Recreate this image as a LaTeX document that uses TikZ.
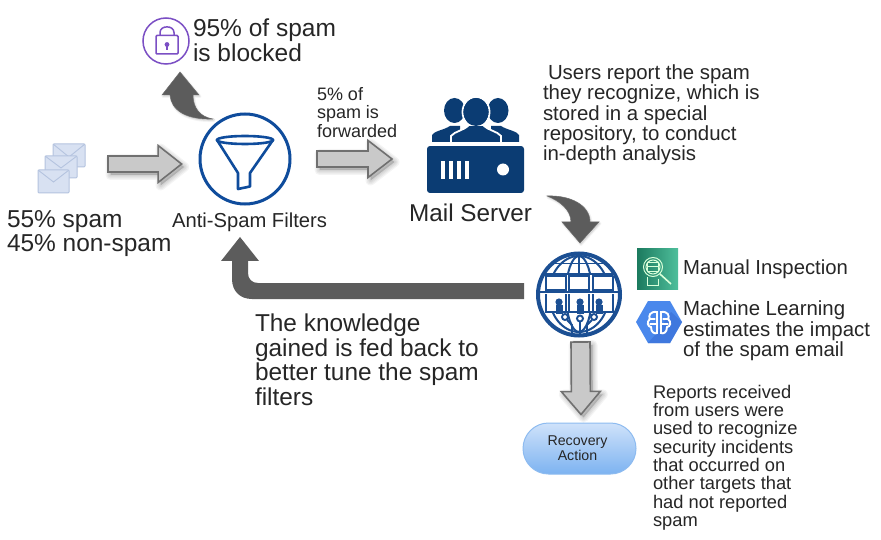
\documentclass[tikz,border=0pt]{standalone}
\usepackage{fontspec}
\setmainfont{Liberation Sans}
\usetikzlibrary{calc,shapes.misc,shapes.geometric}
\definecolor{ink}{HTML}{262626}
\definecolor{navy}{HTML}{0B3C73}
\definecolor{ringblue}{HTML}{0F4C9C}
\definecolor{globeblue}{HTML}{1B4F93}
\definecolor{lockpurple}{HTML}{7B4FC4}
\definecolor{arrowlight}{HTML}{C9C9C9}
\definecolor{arrowedge}{HTML}{707070}
\definecolor{arrowdark}{HTML}{5C5C5C}
\definecolor{mailfill}{HTML}{D8E1F2}
\definecolor{mailedge}{HTML}{B4C3DF}
\definecolor{greenA}{HTML}{1B7A5E}
\definecolor{greenB}{HTML}{4FBF9C}
\definecolor{hexA}{HTML}{4A88EC}
\definecolor{hexC}{HTML}{3F78DE}
\definecolor{pillA}{HTML}{CFE2FA}
\definecolor{pillB}{HTML}{7DB3F1}
\definecolor{pillC}{HTML}{8DBBF0}
\tikzset{
  txt/.style={anchor=north west,inner sep=0pt,outer sep=0pt,align=left,text=ink},
  ring/.style={circle,minimum size=#1,inner sep=0pt,outer sep=0pt},
  place/.style={rectangle,inner sep=0pt,outer sep=0pt,minimum width=#1},
  lightarrow/.style={fill=arrowlight,draw=arrowedge,line width=1.6pt,line join=miter},
  darkarrow/.style={fill=arrowdark,draw=arrowdark!90,line width=.5pt,line join=miter},
  mail/.style={fill=mailfill,draw=mailedge,line width=1pt,rounded corners=1pt},
  mailflap/.style={draw=mailedge,line width=.9pt},
}
% Soft halo under a block arrow
\newcommand{\halo}[1]{%
  \foreach \halow in {10,7.5,5,2.5}{
    \path[fill=black,draw=black,line width=\halow pt,line join=round,opacity=.045,
          transform canvas={shift={(2.5pt,-3pt)}}] #1;}}
% Fainter halo for the dark curved arrows
\newcommand{\faintHalo}[1]{%
  \foreach \halow in {3,1.5}{
    \path[fill=black,draw=black,line width=\halow pt,line join=round,opacity=.04,
          transform canvas={shift={(1pt,-1.5pt)}}] #1;}}
% Straight block arrow between two named coordinates
\newcommand{\blockarrow}[5]{%
  \def\shapepath{($(#1)!#3pt!90:(#2)$) -- ($(#2)!#5pt!(#1)!#3pt!90:(#2)$) -- ($(#2)!#5pt!(#1)!#4pt!90:(#2)$)
    -- (#2) -- ($(#2)!#5pt!(#1)!#4pt!-90:(#2)$) -- ($(#2)!#5pt!(#1)!#3pt!-90:(#2)$) -- ($(#1)!#3pt!-90:(#2)$) -- cycle}%
  \halo{\shapepath}%
  \draw[lightarrow] \shapepath;}
\begin{document}
\begin{tikzpicture}[x=1pt,y=-1pt]
\useasboundingbox (0,0) rectangle (881,540);
\fill[white] (0,0) rectangle (881,540);

% ---- Envelopes
\node[place=47,minimum height=49] (mails) at (61.5,168.5) {};
\draw[mail] (53,144) rectangle (85,167);
\draw[mailflap] (53,144) -- (69,157) -- (85,144);
\draw[mail] (45,156) rectangle (77,178);
\draw[mailflap] (45,156) -- (61,168) -- (77,156);
\draw[mail] (38,170) rectangle (69,193);
\draw[mailflap] (38,170) -- (53.5,182) -- (69,170);

% ---- Anti-spam filter icon
\node[ring=90,draw=ringblue,line width=3pt] (filters) at (245,159) {};
\draw[ringblue,line width=2.6pt,line join=round]
  (217,140) -- (238,173) -- (238,189) -- (250,186.5) -- (250,173) -- (273,140);
\draw[ringblue,line width=2.6pt] (245,140) ellipse (28 and 4);

% ---- Padlock icon
\node[ring=46,draw=lockpurple,line width=1.5pt] (lock) at (166,41) {};
\draw[lockpurple,line width=1.5pt,rounded corners=1pt] (156,35.5) rectangle (178,54);
\draw[lockpurple,line width=1.5pt] (160,35.5) -- (160,32.5) .. controls (160,25) and (174,25) .. (174,32.5) -- (174,35.5);
\fill[lockpurple] (167,44.5) circle (2.4);
\draw[lockpurple,line width=1.2pt] (167,45) -- (167,50);

% ---- Mail server icon
\node[place=97,minimum height=47,fill=navy,rounded corners=3pt] (server) at (475.5,169.5) {};
\foreach \bx in {443,451,459,467}
  \fill[white] (\bx-2,161) rectangle (\bx+2,179);
\fill[white] (503,169.5) circle (6);
\fill[navy] (432,142) -- (432,135) .. controls (434,131) and (444,130) .. (450,126) -- (460,126) -- (460,142) -- cycle;
\fill[navy] (454.5,110.5) ellipse (10.5 and 12.5);
\fill[navy] (519,142) -- (519,135) .. controls (517,131) and (507,130) .. (501,126) -- (491,126) -- (491,142) -- cycle;
\fill[navy] (498,110.5) ellipse (10.5 and 12.5);
\fill[navy,draw=white,line width=1.8pt] (476,112) ellipse (13.5 and 15);
\fill[navy,draw=white,line width=1.8pt] (451,143.5) -- (451,136) .. controls (455,131) and (463,131) .. (469,125)
   -- (483,125) .. controls (489,131) and (497,131) .. (501,136) -- (501,143.5);
\fill[navy] (476,112) ellipse (12.5 and 14);
\fill[white] (430,142.5) rectangle (522,146);

% ---- Analysis repository icon
\node[ring=82,fill=white,draw=globeblue,line width=4pt] (globe) at (579,294.5) {};
\begin{scope}
  \clip (579,294.5) circle (39.5);
  \draw[globeblue,line width=2pt] (579,294) ellipse (13 and 38);
  \draw[globeblue,line width=2pt] (579,254) -- (579,276);
  \draw[globeblue,line width=2pt] (579,294) ellipse (30 and 38);
  \draw[globeblue,line width=1.8pt] (540,263.5) -- (618,263.5);
  \fill[white] (545,275) rectangle (614,312);
  \draw[globeblue,line width=2.2pt] (540,274) -- (618,274);
  \foreach \wx in {546,569,593}{
    \fill[white] (\wx,276) rectangle (\wx+20,290);
    \draw[globeblue,line width=2.2pt] (\wx,276) rectangle (\wx+20,290);
    \draw[globeblue,line width=2.2pt] (\wx,294) -- (\wx,312) (\wx+20,294) -- (\wx+20,312);
  }
  \draw[globeblue,line width=2.2pt] (538,292) -- (620,292) (545,312) -- (614,312);
  \foreach \px in {559,580,599}{
    \fill[globeblue] (\px,302) circle (3.6);
    \fill[globeblue] (\px-3.5,305) rectangle (\px+3.5,314);
  }
  \draw[globeblue,line width=1.9pt] (565,317) circle (3) (580,318.5) circle (3) (594,317) circle (3);
  \draw[globeblue,line width=1.9pt] (580,321.5) -- (580,334);
  \draw[globeblue,line width=1.9pt] (567,320) -- (572,325) -- (572,334);
  \draw[globeblue,line width=1.9pt] (592,320) -- (587,325) -- (587,334);
\end{scope}

% ---- Manual inspection badge
\node[place=41,minimum height=40,left color=greenA,right color=greenB] (manual) at (657.5,269) {};

% ---- Machine learning badge
\node[place=46,minimum height=42] (ml) at (659,322) {};
\fill[hexA] (636,322) -- (648,301) -- (670,301) -- (682,322) -- (670,343) -- (648,343) -- cycle;
\fill[hexC] (671,312) -- (682,322) -- (670,343) -- (648,343) -- (656,334) -- cycle;
\begin{scope}[white,line width=1.9pt,line cap=round]
  \draw (657,312) .. controls (650,311) and (648,316) .. (650,319) .. controls (646,322) and (648,327) .. (651,327)
        .. controls (651,333) and (655,334) .. (657,333) -- cycle;
  \draw (661,312) .. controls (668,311) and (670,316) .. (668,319) .. controls (672,322) and (670,327) .. (667,327)
        .. controls (667,333) and (663,334) .. (661,333) -- cycle;
  \draw[line width=1.3pt] (649,319) -- (655,319) (650,324) -- (656,324) (663,319) -- (669,319) (662,324) -- (668,324);
\end{scope}

% ---- Recovery action pill
\node[rounded rectangle,minimum width=113,minimum height=51,inner sep=0pt,
      top color=pillA,bottom color=pillB,draw=pillC,line width=1pt,
      align=center,text=ink,font=\fontsize{14.2}{15}\selectfont] (recovery) at (579.5,448.5)
      {Recovery\hspace*{4pt}\\Action\hspace*{4pt}};

% ---- Straight flow arrows
\coordinate (inTail) at ($(mails.east)+(23,-4.5)$);
\coordinate (inTip) at ($(filters.west)+(-18.4,5)$);
\blockarrow{inTail}{inTip}{8}{18.5}{23.5}
\coordinate (fwTail) at ($(filters.east)+(27,0)$);
\coordinate (fwTip) at ($(server.west)+(-35,-10.5)$);
\blockarrow{fwTail}{fwTip}{8}{18.5}{24}
\coordinate (recTail) at ($(globe.south)+(1.5,6.5)$);
\coordinate (recTip) at ($(recovery.north)+(1.5,-8)$);
\blockarrow{recTail}{recTip}{9.5}{19.5}{23}

% ---- Curved flow arrows
\coordinate (blockTip) at ($(lock.south)+(14,8)$);
\coordinate (blockTail) at ($(filters.north)+(-32,5)$);
\def\blockpath{(blockTail) .. controls (200,117) and (193,108) .. (193,95) -- (199,95) -- (blockTip) -- (162,95) -- (170,95)
  .. controls (171,110) and (186,120) .. (blockTail) -- cycle}
\faintHalo{\blockpath}
\draw[darkarrow] \blockpath;
\coordinate (repoTail) at ($(server.south east)+(23,3)$);
\coordinate (repoTip) at ($(globe.north)+(1,-10.5)$);
\def\repopath{(repoTail) .. controls (570,195) and (590,205) .. (590,222) -- (599,222) -- (repoTip) -- (562,222) -- (571,222)
  .. controls (571,210) and (560,201) .. (repoTail) -- cycle}
\faintHalo{\repopath}
\draw[darkarrow] \repopath;

% ---- Feedback arrow back to the filters
\coordinate (fbTail) at ($(globe.west)+(-14,-3.5)$);
\coordinate (fbTip) at ($(filters.south)+(-5,33)$);
\fill[arrowdark] ($(fbTail)+(0,-8)$) -- (258,283) .. controls (252,283) and (248,279) .. (248,273) -- (248,261) -- (259,261)
  -- (fbTip) -- (221,261) -- (232,261) -- (232,279) .. controls (232,291) and (240,299) .. (252,299) -- ($(fbTail)+(0,8)$) -- cycle;

% ---- Magnifier on the inspection badge
\begin{scope}[white!85!green,line width=1pt]
  \draw (653,267) circle (9.5) (653,267) circle (7);
  \draw[line width=1.6pt] (660,274) -- (671,284);
  \draw (647,263) rectangle (658,271) (647,266.5) -- (658,266.5);
  \draw (647,277) -- (647,285) -- (658,285) -- (658,279);
\end{scope}

% ---- Labels
\node[txt,font=\fontsize{24.5}{24.5}\selectfont] (blockedlabel) at (193,19.2) {95\% of spam\\is blocked};
\node[txt,font=\fontsize{18}{18.3}\selectfont] (fwlabel) at (317,87.5) {5\% of\\spam is\\forwarded};
\node[txt,font=\fontsize{20.4}{20.2}\selectfont] (userslabel) at (543,65) {\hspace*{5pt}Users report the spam\\they recognize, which is\\stored in a special\\repository, to conduct\\in-depth analysis};
\node[txt,font=\fontsize{24.45}{24.5}\selectfont] (mixlabel) at (7,210.3) {55\% spam\\45\% non-spam};
\node[anchor=base,inner sep=0pt,text=ink,font=\fontsize{20.2}{20.2}\selectfont] (filterlabel) at (249.5,228) {Anti-Spam Filters};
\node[anchor=base west,inner sep=0pt,text=ink,font=\fontsize{24.3}{24.3}\selectfont] (serverlabel) at (409,222) {Mail Server};
\node[anchor=base west,inner sep=0pt,text=ink,font=\fontsize{20.3}{20.3}\selectfont] (manuallabel) at (683,275) {Manual Inspection};
\node[txt,font=\fontsize{20.4}{20.3}\selectfont] (mllabel) at (683,301) {Machine Learning\\estimates the impact\\of the spam email};
\node[txt,font=\fontsize{24.4}{24.5}\selectfont] (fblabel) at (255,314) {The knowledge\\gained is fed back to\\better tune the spam\\filters};
\node[txt,font=\fontsize{18.3}{18.3}\selectfont] (reportlabel) at (653,385) {Reports received\\from users were\\used to recognize\\security incidents\\that occurred on\\other targets that\\had not reported\\spam};
\end{tikzpicture}
\end{document}
